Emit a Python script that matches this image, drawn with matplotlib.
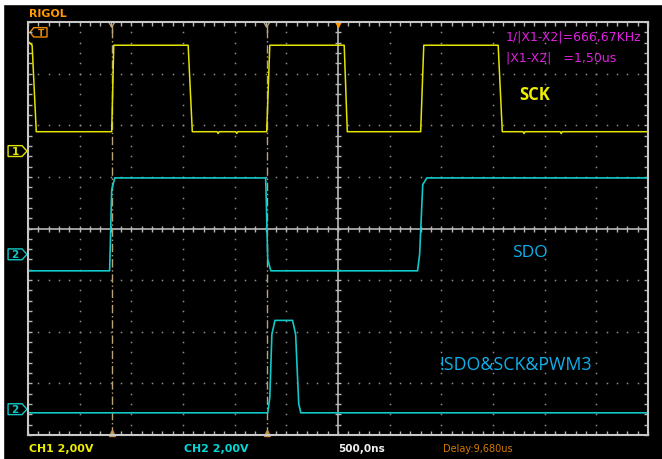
import numpy as np
import matplotlib
matplotlib.use("Agg")
import matplotlib.pyplot as plt
from matplotlib.patches import Polygon, Rectangle

# scope settings
time_per_div = 0.5      # us / div
volts_per_div = 2.0     # V / div
ch1_offset = 1.5        # div
ch2_offset = -0.5       # div
ch2b_offset = -3.5      # div (second CH2 capture)
trig_level = 4.6        # V on CH1

# cursors X1, X2 (us)
cursor_t = [-2.19, -0.69]

# SCK (CH1)
sck_t = [-3.00, -2.96, -2.92, -2.19, -2.17, -1.45, -1.41, -1.17, -1.16, -1.15,
         -0.99, -0.98, -0.97, -0.69, -0.66, 0.06, 0.09, 0.80, 0.83, 1.55, 1.59,
         1.79, 1.80, 1.81, 2.15, 2.16, 2.17, 3.00]
sck_v = [4.25, 4.1, 0.75, 0.75, 4.1, 4.1, 0.75, 0.75, 0.68, 0.75,
         0.75, 0.68, 0.75, 0.75, 4.1, 4.1, 0.75, 0.75, 4.1, 4.1, 0.75,
         0.75, 0.68, 0.75, 0.75, 0.68, 0.75, 0.75]

# SDO (CH2)
sdo_t = [-3.00, -2.21, -2.19, -2.16, -0.70, -0.68, -0.65, 0.77, 0.79, 0.82, 0.86, 3.00]
sdo_v = [-0.64, -0.64, 2.5, 2.96, 2.96, -0.2, -0.64, -0.64, 0.0, 2.7, 2.96, 2.96]

# !SDO&SCK&PWM3 (CH2, second capture)
and_t = [-3.00, -0.68, -0.66, -0.64, -0.61, -0.44, -0.41, -0.38, -0.36, 3.00]
and_v = [-0.14, -0.14, 0.45, 2.9, 3.44, 3.44, 2.9, 0.2, -0.14, -0.14]

W, H = 662, 460
YEL = "#e4e400"
CYN = "#12c8c8"
GRID = "#8e8e8e"
CUR = "#b8a478"


def fx(px):
    return px / W


def fy(py):
    return 1 - py / H


def to_div(v, off):
    return off + np.asarray(v) / volts_per_div


fig = plt.figure(figsize=(W / 100, H / 100), dpi=100, facecolor="black")
# white strips of the screenshot edge
fig.patches.append(Rectangle((0, fy(5)), 1, 5 / H, transform=fig.transFigure, color="white"))
fig.patches.append(Rectangle((0, 0), 3 / W, 1, transform=fig.transFigure, color="white"))

ax = fig.add_axes([fx(28), fy(436), 620 / W, 413 / H])
ax.set_facecolor("black")
ax.set_xlim(-6 * time_per_div, 6 * time_per_div)
ax.set_ylim(-4, 4)

for s in ax.spines.values():
    s.set_color("#c8c8c8")
    s.set_linewidth(1.5)
ax.set_xticks(np.arange(-3, 3.01, 0.1))
ax.set_yticks(np.arange(-4, 4.01, 0.2))
ax.tick_params(direction="in", length=3, width=1, color="#b4b4b4",
               top=True, right=True, labelbottom=False, labelleft=False)

# graticule dots
for gx in np.arange(-2.5, 2.51, 0.5):
    if abs(gx) < 1e-9:
        continue
    ys = np.arange(-4, 4.01, 0.2)
    ax.plot(np.full_like(ys, gx), ys, ls="none", marker="s", ms=1.1, mew=0, color=GRID)
for gy in range(-3, 4):
    if gy == 0:
        continue
    xs = np.arange(-3, 3.01, 0.1)
    ax.plot(xs, np.full_like(xs, gy), ls="none", marker="s", ms=1.1, mew=0, color=GRID)

# centre cross with ticks
ax.axhline(0, color="#b8b8b8", lw=1.2)
ax.axvline(0, color="#b8b8b8", lw=1.2)
xs = np.arange(-3, 3.01, 0.1)
ax.plot(xs, np.zeros_like(xs), ls="none", marker="|", ms=5, mew=1, color="#b8b8b8")
ys = np.arange(-4, 4.01, 0.2)
ax.plot(np.zeros_like(ys), ys, ls="none", marker="_", ms=5, mew=1, color="#b8b8b8")

# cursors
for t in cursor_t:
    ax.axvline(t, color=CUR, lw=1, ls=(0, (6, 2, 1, 2)))
    ax.plot([t - 0.03, t, t + 0.03], [4.0, 3.9, 4.0], color=CUR, lw=1, clip_on=False)
    ax.plot([t, t], [3.9, 3.8], color=CUR, lw=1, clip_on=False)
    ax.plot(t, -3.96, marker="^", ms=5, mfc="none", mec="#c89040", mew=1, clip_on=False)
ax.plot(0, 3.97, marker="v", ms=5, color="#ff9900", clip_on=False)

# traces
ax.plot(sck_t, to_div(sck_v, ch1_offset), color=YEL, lw=1.1)
ax.plot(sdo_t, to_div(sdo_v, ch2_offset), color=CYN, lw=1.2)
ax.plot(and_t, to_div(and_v, ch2b_offset), color=CYN, lw=1.2)

# channel markers
x0, x1, x2 = -3.193, -3.058, -3.010
for off, txt, col in [(ch1_offset, "1", YEL), (ch2_offset, "2", CYN), (ch2b_offset, "2", CYN)]:
    h = 0.105
    ax.add_patch(Polygon([[x0, off - h], [x1, off - h], [x2, off], [x1, off + h], [x0, off + h]],
                         closed=True, fill=False, ec=col, lw=1, clip_on=False))
    ax.text((x0 + x1) / 2, off, txt, color=col, fontsize=7.5, fontweight="bold",
            ha="center", va="center", clip_on=False)

# trigger level marker
tl = ch1_offset + trig_level / volts_per_div
ax.add_patch(Polygon([[-2.980, tl], [-2.945, tl + 0.09], [-2.816, tl + 0.09],
                      [-2.816, tl - 0.09], [-2.945, tl - 0.09]],
                     closed=True, fill=False, ec="#f08c00", lw=1, clip_on=False))
ax.text(-2.875, tl, "T", color="#f08c00", fontsize=6.5, fontweight="bold",
        ha="center", va="center", clip_on=False)

# header / readouts
fig.text(fx(29), fy(14), "RIGOL", color="#ff9900", fontsize=7.9, fontweight="bold", va="center")
fig.text(fx(506), fy(37), "1/|X1-X2|=666,67KHz", color="#e020e0", fontsize=9, va="center")
fig.text(fx(506), fy(58), "|X1-X2|   =1,50us", color="#e020e0", fontsize=9, va="center")

fig.text(fx(29), fy(449), "CH1 2,00V", color="#eeee00", fontsize=7.9, fontweight="bold", va="center")
fig.text(fx(184), fy(449), "CH2 2,00V", color="#00d8d8", fontsize=7.9, fontweight="bold", va="center")
fig.text(fx(338), fy(449), "500,0ns", color="#f0f0f0", fontsize=7.6, fontweight="bold", va="center")
fig.text(fx(443), fy(449), "Delay:9,680us", color="#d47a00", fontsize=7.0, va="center")

# signal labels
lbl = ["Open Sans", "DejaVu Sans"]
fig.text(fx(519), fy(95), "SCK", color="#eeee00", fontsize=12, fontweight="bold",
         family=lbl, va="center")
fig.text(fx(512), fy(253), "SDO", color="#0fb0ec", fontsize=12.5, family=lbl, va="center")
fig.text(fx(440), fy(365), "!SDO&SCK&PWM3", color="#0fb0ec", fontsize=12.8, family=lbl, va="center")

fig.savefig("out.png", dpi=100, facecolor=fig.get_facecolor())
